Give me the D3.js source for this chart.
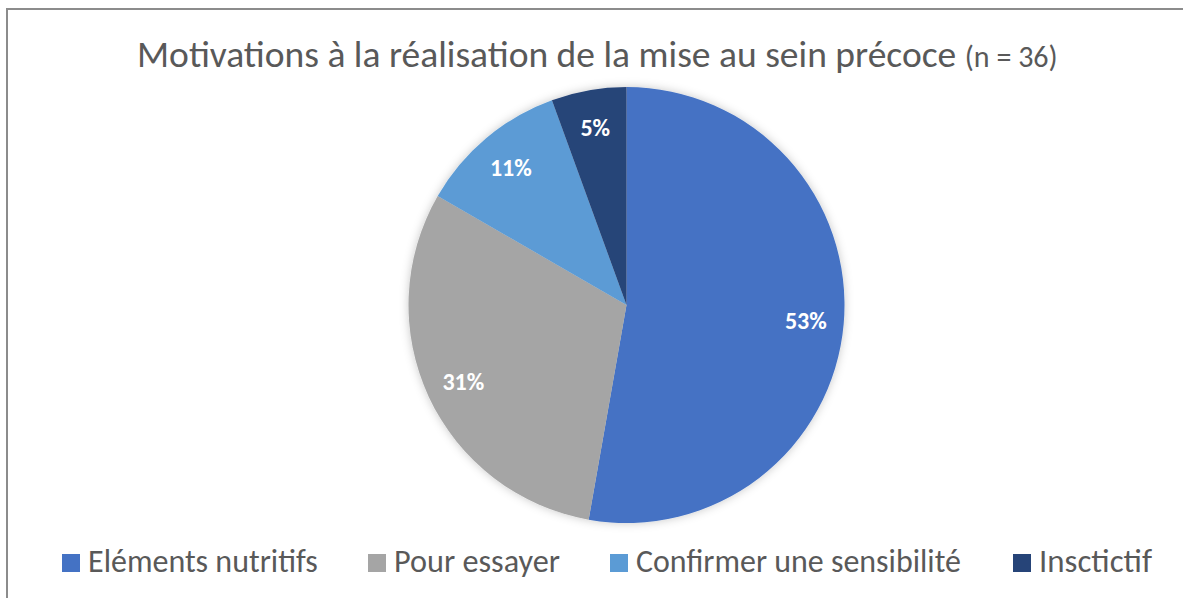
<!DOCTYPE html>
<html>
<head>
<meta charset="utf-8">
<script src="https://cdn.jsdelivr.net/npm/d3@7"></script>
<style>
  html, body { margin: 0; padding: 0; background: #fff; }
  svg { display: block; font-family: Carlito, Lato, "Open Sans", sans-serif; }
</style>
</head>
<body>
<svg id="chart" width="1183" height="598"></svg>
<script>
const categories = ['Eléments nutritifs', 'Pour essayer', 'Confirmer une sensibilité', 'Insctictif']
const counts = [19, 11, 4, 2]
const pctLabels = ['53%', '31%', '11%', '5%']
const colors = ['#4472C4', '#A5A5A5', '#5B9BD5', '#264478']

const svg = d3.select('#chart')

// frame, its right and bottom edges run off the picture
svg.append('rect')
    .attr('x', 7).attr('y', 9)
    .attr('width', 1190).attr('height', 600)
    .attr('fill', '#fff')
    .attr('stroke', '#8c8c8c').attr('stroke-width', 2)

// squeeze/stretch a text element to a target width
const fitWidth = function (sel, width) {
  const node = sel.node()
  const w = node.getComputedTextLength()
  const fs = parseFloat(sel.attr('font-size'))
  sel.attr('font-size', fs * width / w)
}

// title
const title = svg.append('text')
    .attr('x', 137).attr('y', 67)
    .attr('fill', '#595959')
    .attr('font-size', 30)
title.append('tspan').text('Motivations à la réalisation de la mise au sein précoce ')
title.append('tspan').attr('font-size', '0.8em').text('(n = 36)')
fitWidth(title, 921)

// pie
const cx = 626.5, cy = 305, r = 218
const defs = svg.append('defs')
defs.append('filter').attr('id', 'shadow')
    .attr('x', '-20%').attr('y', '-20%').attr('width', '140%').attr('height', '140%')
  .append('feDropShadow')
    .attr('dx', 0).attr('dy', 0).attr('stdDeviation', 5)
    .attr('flood-color', '#000').attr('flood-opacity', 0.22)

const pie = d3.pie().sort(null).value(d => d)
const arcs = pie(counts)
const arc = d3.arc().innerRadius(0).outerRadius(r)
const labelArc = d3.arc().innerRadius(180).outerRadius(180)

const g = svg.append('g').attr('transform', 'translate(' + cx + ',' + cy + ')')

g.append('g').attr('filter', 'url(#shadow)')
  .selectAll('path')
  .data(arcs)
  .enter().append('path')
    .attr('d', arc)
    .attr('fill', (d, i) => colors[i])

g.selectAll('text.lbl')
  .data(arcs)
  .enter().append('text')
    .attr('class', 'lbl')
    .attr('transform', d => 'translate(' + labelArc.centroid(d) + ')')
    .attr('text-anchor', 'middle')
    .attr('dy', '0.36em')
    .attr('fill', '#fff')
    .attr('font-weight', 'bold')
    .attr('font-size', 24)
    .text((d, i) => pctLabels[i])

// legend
const legendX = [62, 368, 610, 1013]
const legendW = [230, 166, 325, 113]
const lg = svg.append('g').selectAll('g')
  .data(categories)
  .enter().append('g')
    .attr('transform', (d, i) => 'translate(' + legendX[i] + ',554)')

lg.append('rect')
    .attr('width', 18).attr('height', 18)
    .attr('fill', (d, i) => colors[i])

lg.append('text')
    .attr('x', 26).attr('y', 18)
    .attr('fill', '#595959')
    .attr('font-size', 25)
    .text(d => d)
    .each(function (d, i) { fitWidth(d3.select(this), legendW[i]) })
</script>
</body>
</html>
